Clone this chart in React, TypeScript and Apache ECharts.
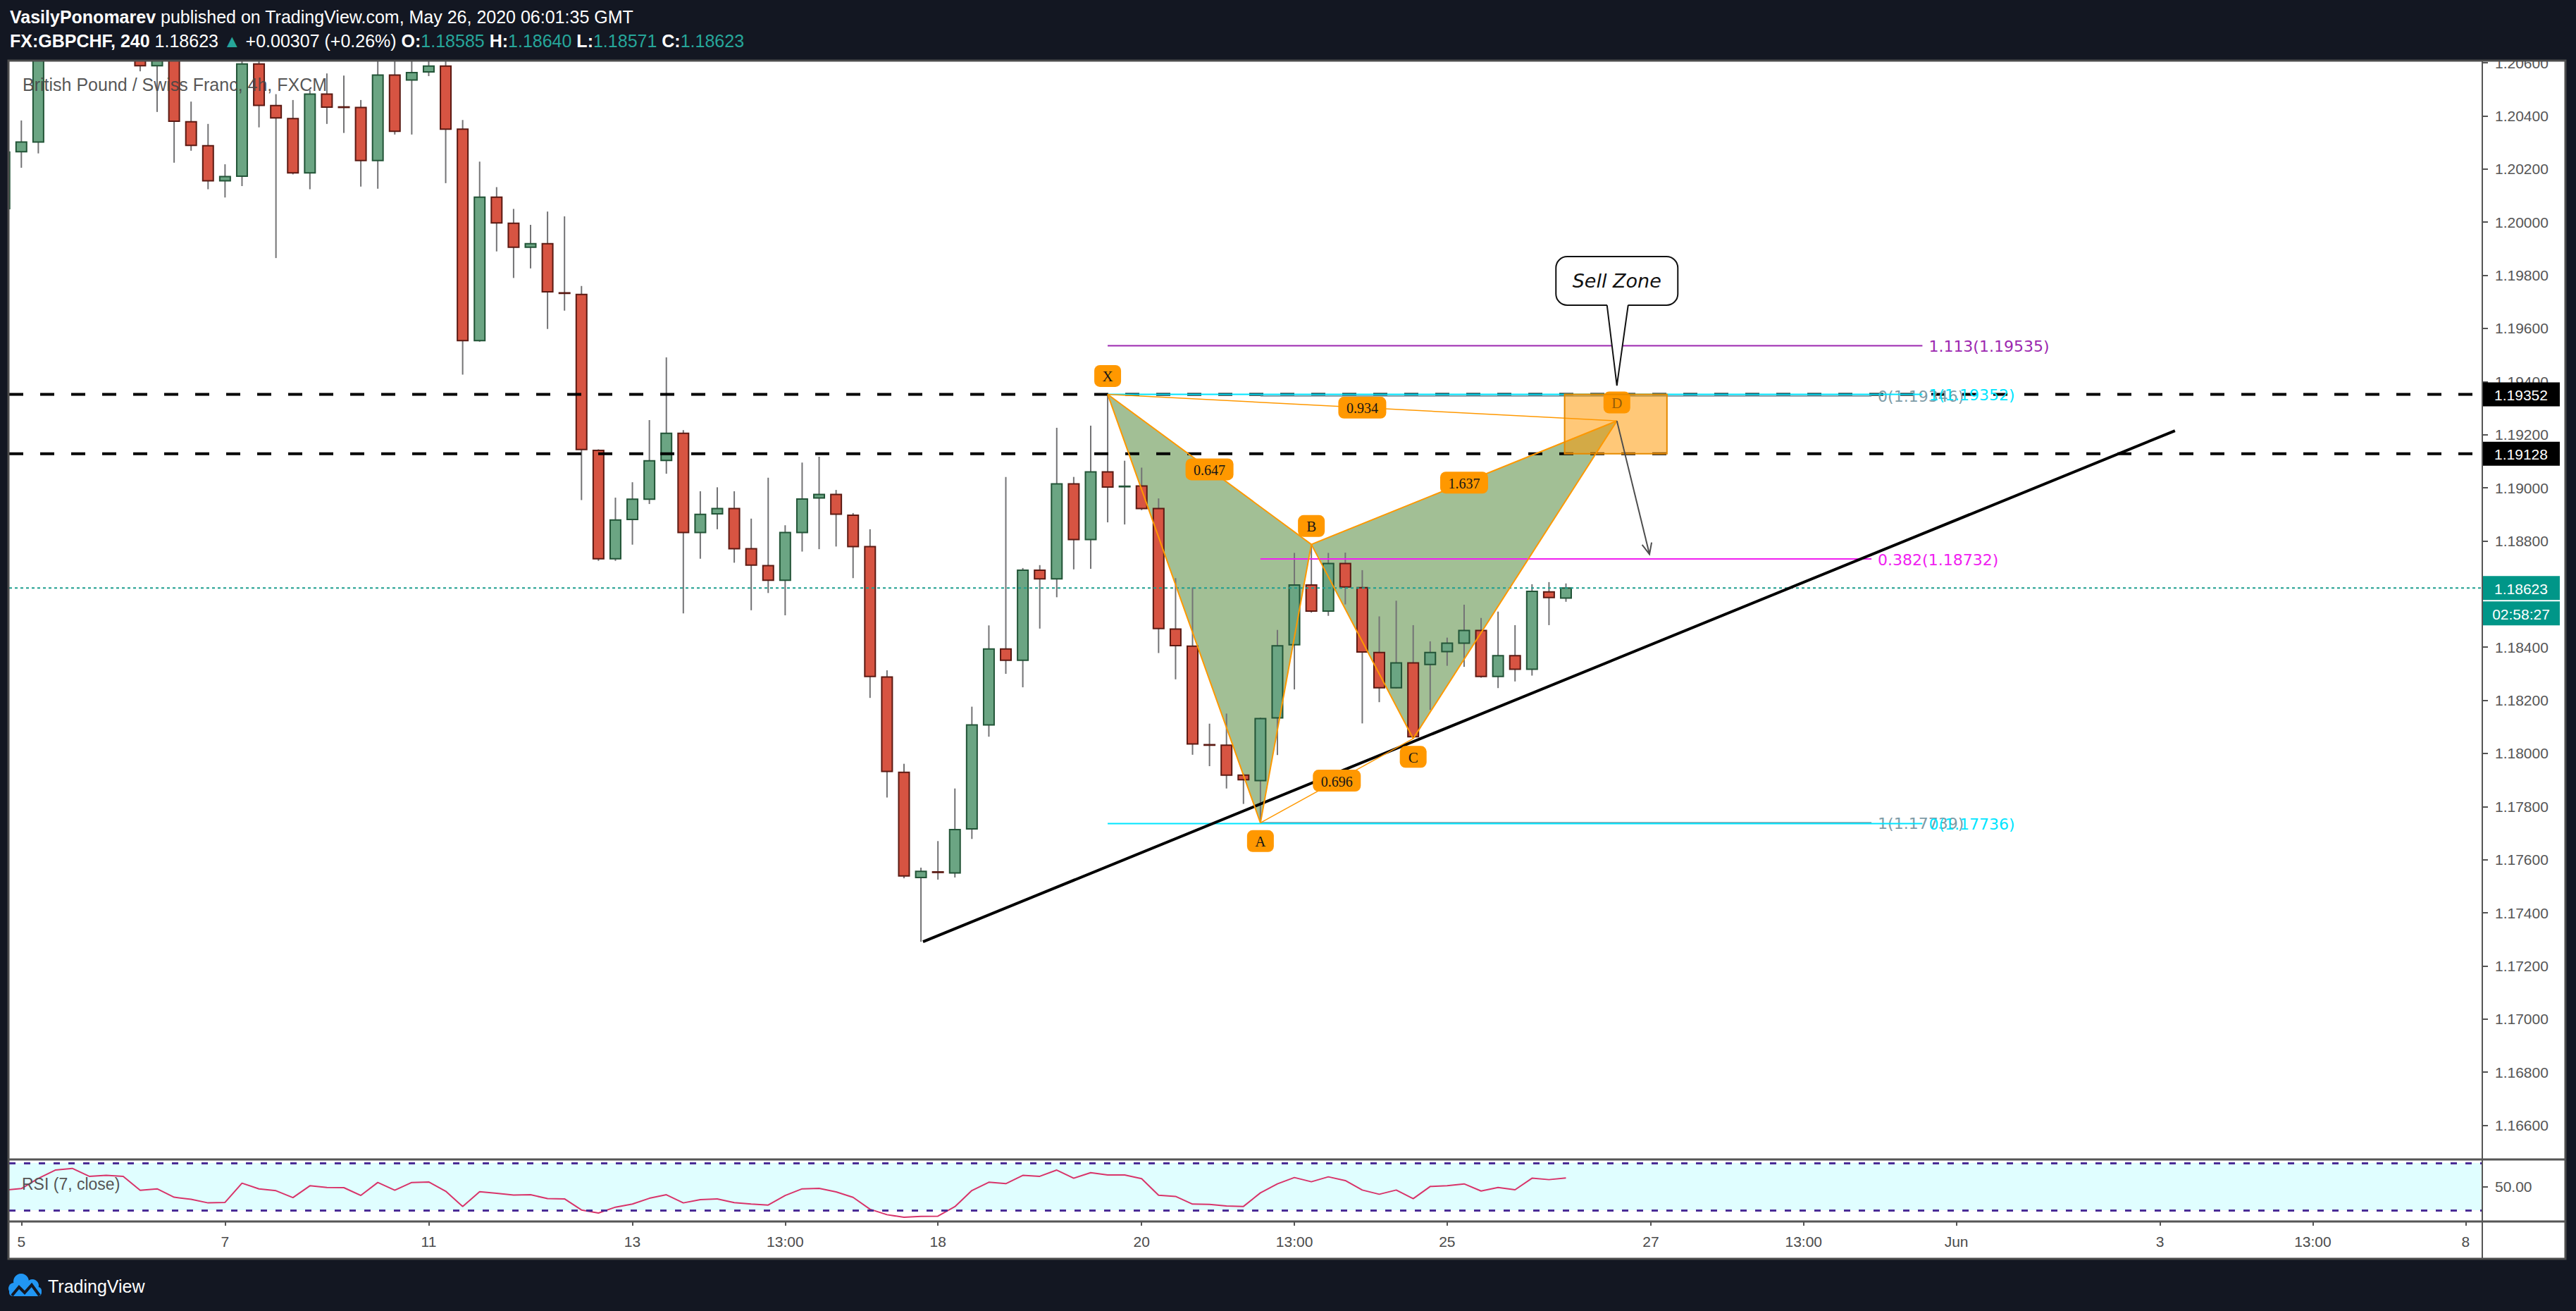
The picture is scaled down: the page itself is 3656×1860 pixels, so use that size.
import React, { useEffect, useRef } from "react";
import * as echarts from "echarts";

// ---------------- data ----------------
const firstCandleIndex = -1;
const opens = [
  1.20051, 1.20265, 1.20302, 1.2068, 1.2079, 1.2085, 1.2078, 1.2082, 1.2072, 1.20589,
  1.2064, 1.20378, 1.20288, 1.20156, 1.20173, 1.20596, 1.20439, 1.2039, 1.20186, 1.20482,
  1.20434, 1.20432, 1.20232, 1.20554, 1.20535, 1.20566, 1.20588, 1.2035, 1.19554, 1.20094,
  1.19996, 1.19906, 1.19919, 1.19734, 1.19728, 1.19141, 1.18733, 1.18881, 1.18957, 1.19103,
  1.19205, 1.18832, 1.18902, 1.18922, 1.18771, 1.18707, 1.18652, 1.18832, 1.18962, 1.18975,
  1.18897, 1.18779, 1.18288, 1.17929, 1.17533, 1.17554, 1.1755, 1.17716, 1.18107, 1.18393,
  1.18351, 1.1869, 1.18657, 1.19015, 1.18805, 1.1906, 1.19004, 1.19007, 1.18922, 1.18468,
  1.18404, 1.18033, 1.18031, 1.17918, 1.17898, 1.18134, 1.18409, 1.18634, 1.18536, 1.18715,
  1.18624, 1.1838, 1.18247, 1.18341, 1.18335, 1.18383, 1.18415, 1.18463, 1.1829, 1.18368,
  1.18317, 1.18608, 1.18585,
];
const highs = [
  1.2028, 1.20383, 1.2075, 1.2088, 1.2095, 1.2092, 1.209, 1.2089, 1.2076, 1.207,
  1.2068, 1.20454, 1.2037, 1.20218, 1.2063, 1.2063, 1.20482, 1.2046, 1.20497, 1.2056,
  1.20552, 1.2046, 1.2064, 1.2064, 1.2064, 1.2065, 1.2064, 1.20385, 1.20228, 1.20132,
  1.2005, 1.1999, 1.2004, 1.20022, 1.1976, 1.19145, 1.18963, 1.19021, 1.19255, 1.19491,
  1.19217, 1.18987, 1.19002, 1.18987, 1.18884, 1.19038, 1.18859, 1.19095, 1.19117, 1.18992,
  1.18905, 1.18844, 1.18313, 1.17961, 1.1757, 1.1767, 1.17868, 1.18176, 1.18482, 1.19041,
  1.18698, 1.18709, 1.19226, 1.19041, 1.19234, 1.19352, 1.19102, 1.19076, 1.1896, 1.1866,
  1.18625, 1.18112, 1.1815, 1.17924, 1.18135, 1.18465, 1.18755, 1.18787, 1.18755, 1.18756,
  1.1869, 1.18516, 1.18575, 1.18483, 1.18422, 1.18436, 1.1856, 1.1851, 1.18534, 1.18483,
  1.18637, 1.18645, 1.1864,
];
const lows = [
  1.2003, 1.20205, 1.20259, 1.2063, 1.2072, 1.207, 1.2071, 1.2066, 1.20568, 1.20415,
  1.20224, 1.20269, 1.20124, 1.20093, 1.20136, 1.20357, 1.19865, 1.2018, 1.20124, 1.2037,
  1.20336, 1.20134, 1.20126, 1.2033, 1.2033, 1.2055, 1.20147, 1.19426, 1.1955, 1.1989,
  1.1979, 1.19826, 1.19598, 1.19667, 1.18954, 1.18725, 1.18725, 1.18786, 1.18939, 1.19053,
  1.18527, 1.18733, 1.18844, 1.18718, 1.18539, 1.18604, 1.1852, 1.1876, 1.18769, 1.18779,
  1.1866, 1.18209, 1.17834, 1.1753, 1.17291, 1.17525, 1.17533, 1.17678, 1.18063, 1.183,
  1.18249, 1.1847, 1.18588, 1.18693, 1.18695, 1.1887, 1.18862, 1.18916, 1.18378, 1.18279,
  1.17995, 1.17952, 1.17868, 1.1781, 1.17739, 1.17994, 1.18241, 1.1853, 1.18518, 1.18561,
  1.18113, 1.18193, 1.18245, 1.18056, 1.18164, 1.1833, 1.18326, 1.18285, 1.18246, 1.18271,
  1.18293, 1.18483, 1.18571,
];
const closes = [
  1.20264, 1.20302, 1.2068, 1.2079, 1.2085, 1.2078, 1.2082, 1.2072, 1.20589, 1.2066,
  1.2038, 1.20289, 1.20156, 1.20172, 1.20596, 1.2044, 1.20393, 1.20186, 1.20482, 1.20433,
  1.20432, 1.20232, 1.20554, 1.20342, 1.20563, 1.20588, 1.2035, 1.19554, 1.20094, 1.19997,
  1.19906, 1.19919, 1.19738, 1.19732, 1.19144, 1.18733, 1.18879, 1.18957, 1.19102, 1.19205,
  1.18832, 1.189, 1.18922, 1.18771, 1.18709, 1.18652, 1.18832, 1.18958, 1.18975, 1.18901,
  1.18779, 1.1829, 1.17932, 1.17539, 1.17556, 1.17552, 1.17713, 1.18107, 1.18393, 1.18351,
  1.1869, 1.18657, 1.19015, 1.18805, 1.1906, 1.19003, 1.19006, 1.18922, 1.1847, 1.18406,
  1.18036, 1.18031, 1.17918, 1.17901, 1.18131, 1.18405, 1.18634, 1.18536, 1.18715, 1.18627,
  1.18382, 1.18247, 1.18341, 1.18063, 1.1838, 1.18415, 1.18463, 1.1829, 1.18368, 1.18317,
  1.1861, 1.18587, 1.18623,
];
const rsi7 = [
  47.1, 48.3, 57, 64, 65.4, 58.7, 59.5, 58.7, 46.9, 48.1,
  41, 39.2, 36.2, 36.6, 52.9, 48.1, 46.5, 40.7, 50.7, 49.3,
  49.1, 42.5, 53.5, 46.9, 53.5, 53.9, 46.1, 33.2, 45.7, 44.3,
  42.9, 43.1, 39.8, 39.6, 30.2, 27.6, 32.6, 35.2, 40.1, 43.1,
  36.2, 39, 39.6, 36.4, 35.2, 34.4, 42.5, 48.1, 48.5, 45.5,
  40.9, 30.8, 26.2, 24, 24.8, 25, 33, 46.7, 53.7, 52.5,
  59.5, 58.7, 64, 57.1, 61.8, 59.9, 59.9, 56.7, 42.7, 41.7,
  35.2, 35, 33.6, 33.2, 44.7, 52.3, 57.7, 54.1, 58.3, 55.1,
  47.1, 43.5, 47.1, 39.8, 50.1, 50.7, 52.3, 46.3, 49.3, 47.3,
  57.1, 55.9, 57.3,
];

const timeTickIndex = [0, 12, 24, 36, 45, 54, 66, 75, 84, 96, 105, 114, 126, 135, 144];
const timeTickLabels = ["5", "7", "11", "13", "13:00", "18", "20", "13:00", "25", "27", "13:00", "Jun", "3", "13:00", "8"];
const priceTicks = [
  1.166, 1.168, 1.17, 1.172, 1.174, 1.176, 1.178, 1.18, 1.182, 1.184, 1.186,
  1.188, 1.19, 1.192, 1.194, 1.196, 1.198, 1.2, 1.202, 1.204, 1.206,
];
// 1.18600 sits fully behind the last-price tag in the reference
const priceLabelTicks = [
  1.166, 1.168, 1.17, 1.172, 1.174, 1.176, 1.178, 1.18, 1.182, 1.184,
  1.188, 1.19, 1.192, 1.194, 1.196, 1.198, 1.2, 1.202, 1.204, 1.206,
];
const rsiTicks = [50];
const rsiBands = [70, 30];

const keyLevels = [1.19352, 1.19128];
const lastPrice = 1.18623;
const barCountdown = "02:58:27";

const patternNames = ["X", "A", "B", "C", "D"];
const patternIndex = [64, 73, 76, 82, 94];
const patternPrice = [1.19352, 1.17739, 1.18787, 1.18056, 1.19252];
const ratioText = ["0.647", "1.637", "0.934", "0.696"];
const ratioFrom = [0, 2, 0, 1];
const ratioTo = [2, 4, 4, 3];

const fibOneSpan = [64, 112];
const fibOneLevels = ["0", "1", "1.113"];
const fibOnePrices = [1.17736, 1.19352, 1.19535];
const fibTwoSpan = [73, 109];
const fibTwoLevels = ["0", "0.382", "1"];
const fibTwoPrices = [1.19346, 1.18732, 1.17739];

const trendStart = [53.12, 1.17291];
const trendEnd = [126.88, 1.19215];
const sellZoneIndex = [90.92, 96.95];
const sellZonePrice = [1.19352, 1.19128];
const arrowEnd = [95.92, 1.1875];
const calloutTip = [94, 1.19385];
const calloutText = "Sell Zone";

// ---------------- styles ----------------
const X_MIN = -0.718;
const X_MAX = 144.985;
const PRICE_MIN = 1.164714;
const PRICE_MAX = 1.206083;
const RSI_MIN = 20.45;
const RSI_MAX = 72.99;

const SANS = '"Liberation Sans", Arial, sans-serif';
const SERIF = '"Liberation Serif", "Times New Roman", serif';
const DEJAVU = '"DejaVu Sans", Verdana, sans-serif';
const AXIS_FONT = `21px ${SANS}`;
const FIB_FONT = `22px ${DEJAVU}`;
const LETTER_FONT = `21px ${SERIF}`;
const RATIO_FONT = `20px ${SERIF}`;
const CENTER = { textAlign: "center", textVerticalAlign: "middle", align: "center", verticalAlign: "middle" };
const LEFT_MID = { textAlign: "left", textVerticalAlign: "middle", align: "left", verticalAlign: "middle" };

const UP_FILL = "#6BA583";
const UP_LINE = "#225437";
const DOWN_FILL = "#D75442";
const DOWN_LINE = "#5B1A13";
const WICK = "#737375";
const ORANGE = "#FF9800";
const TEAL = "#009688";

const candleData = opens.map((o, k) => [firstCandleIndex + k, o, closes[k], lows[k], highs[k]]);
const rsiData = rsi7.map((v, k) => [firstCandleIndex + k, v]);

function seg(a: number[], b: number[], w: number, color = ORANGE, dash?: number[]) {
  return {
    type: "line",
    shape: { x1: a[0], y1: a[1], x2: b[0], y2: b[1] },
    style: { stroke: color, lineWidth: w, lineDash: dash },
  };
}

function tag(cx: number, cy: number, w: number, text: string, font: string) {
  return [
    { type: "rect", shape: { x: cx - w / 2, y: cy - 15.5, width: w, height: 31, r: 8 }, style: { fill: ORANGE } },
    { type: "text", x: cx, y: cy + 1, style: { text, font, fill: "#161616", ...CENTER } },
  ];
}

function renderCandle(params: any, api: any) {
  const i = api.value(0);
  const o = api.value(1);
  const c = api.value(2);
  const l = api.value(3);
  const h = api.value(4);
  const pO = api.coord([i, o]);
  const pC = api.coord([i, c]);
  const pL = api.coord([i, l]);
  const pH = api.coord([i, h]);
  const up = c >= o;
  const top = Math.min(pO[1], pC[1]);
  const bot = Math.max(pO[1], pC[1]);
  const w = 15;
  return {
    type: "group",
    children: [
      { type: "line", shape: { x1: pO[0], y1: pH[1], x2: pO[0], y2: pL[1] }, style: { stroke: WICK, lineWidth: 2 } },
      {
        type: "rect",
        shape: { x: pO[0] - w / 2, y: top, width: w, height: Math.max(bot - top, 0.5) },
        style: { fill: up ? UP_FILL : DOWN_FILL, stroke: up ? UP_LINE : DOWN_LINE, lineWidth: 2 },
      },
    ],
  };
}

function renderPatternFill(params: any, api: any) {
  const p = patternIndex.map((x, k) => api.coord([x, patternPrice[k]]));
  const fill = "rgba(70,128,43,0.5)";
  return {
    type: "group",
    children: [
      { type: "polygon", shape: { points: [p[0], p[1], p[2]] }, style: { fill } },
      { type: "polygon", shape: { points: [p[2], p[3], p[4]] }, style: { fill } },
    ],
  };
}

function fibGroup(api: any, span: number[], levels: string[], prices: number[], colors: string[]) {
  const out: any[] = [];
  prices.forEach((p, k) => {
    const a = api.coord([span[0], p]);
    const b = api.coord([span[1], p]);
    out.push(seg(a, b, 2, colors[k]));
    out.push({
      type: "text",
      x: b[0] + 9,
      y: b[1] + 1,
      style: { text: `${levels[k]}(${p.toFixed(5)})`, font: FIB_FONT, fill: colors[k], ...LEFT_MID },
    });
  });
  return out;
}

function renderLines(params: any, api: any) {
  const children: any[] = [];
  keyLevels.forEach((p) => {
    children.push(seg(api.coord([X_MIN, p]), api.coord([X_MAX, p]), 4, "#000000", [20, 24]));
  });
  children.push(seg(api.coord([X_MIN, lastPrice]), api.coord([X_MAX, lastPrice]), 2, "#1E9E8F", [4, 4]));
  children.push(...fibGroup(api, fibTwoSpan, fibTwoLevels, fibTwoPrices, ["#7E9BA6", "#F020F0", "#7E9BA6"]));
  children.push(...fibGroup(api, fibOneSpan, fibOneLevels, fibOnePrices, ["#00E5FF", "#00E5FF", "#9C27B0"]));
  children.push(seg(api.coord(trendStart), api.coord(trendEnd), 4, "#000000"));
  return { type: "group", children };
}

function renderPatternMarks(params: any, api: any) {
  const p = patternIndex.map((x, k) => api.coord([x, patternPrice[k]]));
  const children: any[] = [];
  children.push(seg(p[0], p[4], 1.5));
  children.push(seg(p[1], p[3], 1.5));
  [[0, 1], [1, 2], [0, 2], [2, 3], [3, 4], [2, 4]].forEach(([a, b]) => children.push(seg(p[a], p[b], 2)));
  ratioText.forEach((t, k) => {
    const a = p[ratioFrom[k]];
    const b = p[ratioTo[k]];
    children.push(...tag((a[0] + b[0]) / 2, (a[1] + b[1]) / 2, 68, t, RATIO_FONT));
  });
  patternNames.forEach((n, k) => {
    const side = k % 2 === 0 ? -1 : 1;
    children.push(...tag(p[k][0], p[k][1] + side * 26, 38, n, LETTER_FONT));
  });
  return { type: "group", children };
}

function renderSellZone(params: any, api: any) {
  const a = api.coord([sellZoneIndex[0], sellZonePrice[0]]);
  const b = api.coord([sellZoneIndex[1], sellZonePrice[1]]);
  const d = api.coord([patternIndex[4], patternPrice[4]]);
  const e = api.coord(arrowEnd);
  const ang = Math.atan2(e[1] - d[1], e[0] - d[0]);
  const L = 17;
  const s = 0.42;
  const h1 = [e[0] - L * Math.cos(ang - s), e[1] - L * Math.sin(ang - s)];
  const h2 = [e[0] - L * Math.cos(ang + s), e[1] - L * Math.sin(ang + s)];
  return {
    type: "group",
    children: [
      {
        type: "rect",
        shape: { x: a[0], y: a[1], width: b[0] - a[0], height: b[1] - a[1] },
        style: { fill: "rgba(255,152,0,0.53)", stroke: "#E68A00", lineWidth: 2 },
      },
      seg(d, e, 2, "#4d4d4d"),
      { type: "polyline", shape: { points: [h1, e, h2] }, style: { stroke: "#4d4d4d", lineWidth: 2, fill: null } },
    ],
  };
}

function renderCallout(params: any, api: any) {
  const t = api.coord(calloutTip);
  const boxW = 173;
  const boxH = 69;
  const bx = t[0] - boxW / 2;
  const by = t[1] - 114 - boxH;
  const bb = by + boxH;
  return {
    type: "group",
    children: [
      { type: "rect", shape: { x: bx, y: by, width: boxW, height: boxH, r: 16 }, style: { fill: "#ffffff", stroke: "#111111", lineWidth: 2 } },
      { type: "polygon", shape: { points: [[t[0] - 14, bb - 2], [t[0], t[1]], [t[0] + 16, bb - 2]] }, style: { fill: "#ffffff" } },
      { type: "polyline", shape: { points: [[t[0] - 14, bb], [t[0], t[1]], [t[0] + 16, bb]] }, style: { stroke: "#111111", lineWidth: 2, fill: null } },
      { type: "text", x: t[0], y: by + boxH / 2, style: { text: calloutText, font: `italic 27px ${DEJAVU}`, fill: "#111111", ...CENTER } },
    ],
  };
}

function renderAxisBoxes(params: any, api: any) {
  const children: any[] = [];
  const box = (p: number, text: string, bg: string, dy = 0) => {
    const c = api.coord([X_MAX, p]);
    children.push({ type: "rect", shape: { x: c[0] - 1, y: c[1] - 17 + dy, width: 111, height: 34 }, style: { fill: bg } });
    children.push({ type: "text", x: c[0] + 55, y: c[1] + dy + 1, style: { text, font: AXIS_FONT, fill: "#ffffff", ...CENTER } });
  };
  keyLevels.forEach((p) => box(p, p.toFixed(5), "#000000"));
  box(lastPrice, lastPrice.toFixed(5), TEAL);
  box(lastPrice, barCountdown, TEAL, 36);
  return { type: "group", children };
}

function timeLabel(v: number) {
  const k = timeTickIndex.indexOf(Math.round(v));
  return k >= 0 ? timeTickLabels[k] : "";
}

function anchorSeries(name: string, z: number, clip: boolean, renderItem: any) {
  return {
    type: "custom",
    name,
    xAxisIndex: 0,
    yAxisIndex: 0,
    z,
    clip,
    silent: true,
    encode: { x: 0, y: 1 },
    data: [[patternIndex[0], patternPrice[0]]],
    renderItem,
  };
}

const option: any = {
  animation: false,
  backgroundColor: "#131722",
  grid: [
    { left: 13, top: 86, width: 3510, height: 1559, show: false },
    { left: 13, top: 1645, width: 3510, height: 88, show: false },
  ],
  xAxis: [
    { type: "value", gridIndex: 0, min: X_MIN, max: X_MAX, show: false, axisLine: { onZero: false } },
    {
      type: "value",
      gridIndex: 1,
      min: X_MIN,
      max: X_MAX,
      position: "bottom",
      axisLine: { show: false, onZero: false },
      splitLine: { show: false },
      axisTick: { show: true, customValues: timeTickIndex, length: 6, lineStyle: { color: "#555555", width: 2 } },
      axisLabel: {
        show: true,
        customValues: timeTickIndex,
        formatter: (v: number) => timeLabel(v),
        color: "#4b4b4b",
        fontSize: 21,
        fontFamily: SANS,
        margin: 18,
      },
    },
  ],
  yAxis: [
    {
      type: "value",
      gridIndex: 0,
      min: PRICE_MIN,
      max: PRICE_MAX,
      position: "right",
      axisLine: { show: false, onZero: false },
      splitLine: { show: false },
      axisTick: { show: true, customValues: priceTicks, length: 8, lineStyle: { color: "#555555", width: 2 } },
      axisLabel: {
        show: true,
        customValues: priceLabelTicks,
        formatter: (v: number) => v.toFixed(5),
        color: "#555555",
        fontSize: 21,
        fontFamily: SANS,
        margin: 18,
      },
    },
    {
      type: "value",
      gridIndex: 1,
      min: RSI_MIN,
      max: RSI_MAX,
      position: "right",
      axisLine: { show: false, onZero: false },
      splitLine: { show: false },
      axisTick: { show: true, customValues: rsiTicks, length: 8, lineStyle: { color: "#555555", width: 2 } },
      axisLabel: {
        show: true,
        customValues: rsiTicks,
        formatter: (v: number) => v.toFixed(2),
        color: "#555555",
        fontSize: 21,
        fontFamily: SANS,
        margin: 18,
      },
    },
  ],
  series: [
    anchorSeries("patternFill", 1, true, renderPatternFill),
    {
      type: "custom",
      name: "GBPCHF",
      xAxisIndex: 0,
      yAxisIndex: 0,
      z: 2,
      clip: true,
      silent: true,
      encode: { x: 0, y: [1, 2, 3, 4] },
      data: candleData,
      renderItem: renderCandle,
    },
    anchorSeries("lines", 3, true, renderLines),
    anchorSeries("pattern", 4, true, renderPatternMarks),
    anchorSeries("sellZone", 5, true, renderSellZone),
    anchorSeries("callout", 6, true, renderCallout),
    anchorSeries("axisBoxes", 7, false, renderAxisBoxes),
    {
      type: "line",
      name: "RSI",
      xAxisIndex: 1,
      yAxisIndex: 1,
      data: rsiData,
      symbol: "none",
      clip: true,
      silent: true,
      z: 3,
      lineStyle: { color: "#D8346A", width: 2 },
      markArea: {
        silent: true,
        itemStyle: { color: "#E0FEFF" },
        data: [[{ yAxis: rsiBands[0] }, { yAxis: rsiBands[1] }]],
      },
      markLine: {
        silent: true,
        symbol: ["none", "none"],
        label: { show: false },
        lineStyle: { color: "#4A2C96", type: [9, 12], width: 3 },
        data: rsiBands.map((v) => ({ yAxis: v })),
      },
    },
  ],
  graphic: [
    { type: "rect", z: -10, silent: true, shape: { x: 12, y: 86, width: 3629, height: 1700 }, style: { fill: "#ffffff" } },
    { type: "rect", z: 90, silent: true, shape: { x: 0, y: 0, width: 3656, height: 85 }, style: { fill: "#131722" } },
    {
      type: "rect",
      z: 100,
      silent: true,
      shape: { x: 12, y: 86, width: 3629, height: 1700 },
      style: { fill: null, stroke: "#4d4d4d", lineWidth: 3 },
    },
    { type: "line", z: 100, silent: true, shape: { x1: 12, y1: 1645, x2: 3641, y2: 1645 }, style: { stroke: "#555555", lineWidth: 3 } },
    { type: "line", z: 100, silent: true, shape: { x1: 12, y1: 1733, x2: 3641, y2: 1733 }, style: { stroke: "#555555", lineWidth: 3 } },
    { type: "line", z: 100, silent: true, shape: { x1: 3523, y1: 86, x2: 3523, y2: 1786 }, style: { stroke: "#555555", lineWidth: 2 } },
    {
      type: "text",
      z: 101,
      silent: true,
      x: 14,
      y: 24,
      style: {
        text: "{b|VasilyPonomarev}{n| published on TradingView.com, May 26, 2020 06:01:35 GMT}",
        fill: "#ffffff",
        fontSize: 25,
        fontFamily: SANS,
        textVerticalAlign: "middle",
        verticalAlign: "middle",
        rich: {
          b: { fill: "#ffffff", fontSize: 25, fontFamily: SANS, fontWeight: "bold" },
          n: { fill: "#ffffff", fontSize: 25, fontFamily: SANS },
        },
      },
    },
    {
      type: "text",
      z: 101,
      silent: true,
      x: 14,
      y: 58,
      style: {
        text:
          "{b|FX:GBPCHF, 240}{n| 1.18623 }{g|▲}{n| +0.00307 (+0.26%) }{b|O:}{g|1.18585}{b| H:}{g|1.18640}{b| L:}{g|1.18571}{b| C:}{g|1.18623}",
        fill: "#ffffff",
        fontSize: 25,
        fontFamily: SANS,
        textVerticalAlign: "middle",
        verticalAlign: "middle",
        rich: {
          b: { fill: "#ffffff", fontSize: 25, fontFamily: SANS, fontWeight: "bold" },
          n: { fill: "#ffffff", fontSize: 25, fontFamily: SANS },
          g: { fill: "#26A69A", fontSize: 25, fontFamily: SANS },
        },
      },
    },
    {
      type: "text",
      z: 100,
      silent: true,
      x: 32,
      y: 120,
      style: {
        text: "British Pound / Swiss Franc, 4h, FXCM",
        fill: "rgba(70,70,70,0.92)",
        font: `25px ${SANS}`,
        ...LEFT_MID,
      },
    },
    {
      type: "text",
      z: 100,
      silent: true,
      x: 31,
      y: 1680,
      style: { text: "RSI (7, close)", fill: "#555555", font: `23px ${SANS}`, ...LEFT_MID },
    },
    // TradingView logo
    { type: "circle", z: 100, silent: true, shape: { cx: 30, cy: 1818, r: 11 }, style: { fill: "#2196F3" } },
    { type: "circle", z: 100, silent: true, shape: { cx: 46, cy: 1824, r: 9 }, style: { fill: "#2196F3" } },
    { type: "circle", z: 100, silent: true, shape: { cx: 20, cy: 1828, r: 8 }, style: { fill: "#2196F3" } },
    { type: "rect", z: 100, silent: true, shape: { x: 13, y: 1826, width: 46, height: 13, r: 5 }, style: { fill: "#2196F3" } },
    {
      type: "polyline",
      z: 101,
      silent: true,
      shape: { points: [[17, 1838], [27, 1826], [35, 1834], [45, 1823], [56, 1838]] },
      style: { stroke: "#131722", lineWidth: 4, fill: null },
    },
    {
      type: "text",
      z: 101,
      silent: true,
      x: 68,
      y: 1825,
      style: { text: "TradingView", fill: "#ffffff", font: `25px ${SANS}`, ...LEFT_MID },
    },
  ],
};

export default function App() {
  const ref = useRef<HTMLDivElement>(null);
  useEffect(() => {
    document.body.style.margin = "0";
    const chart = echarts.init(ref.current as HTMLDivElement, null, { renderer: "svg", width: 3656, height: 1860 });
    chart.setOption(option);
    return () => {
      chart.dispose();
    };
  }, []);
  return <div ref={ref} style={{ position: "fixed", left: 0, top: 0, width: 3656, height: 1860 }} />;
}
